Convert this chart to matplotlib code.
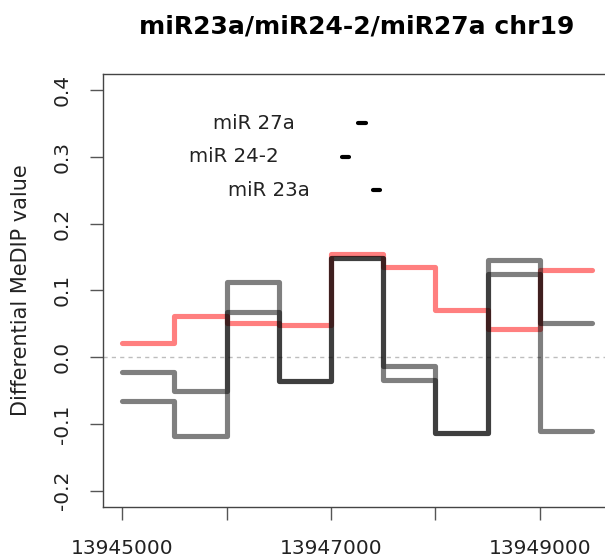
import matplotlib
matplotlib.use("Agg")
import matplotlib.pyplot as plt
import numpy as np

plt.rcParams['font.family'] = ['DejaVu Sans']

# Window edges (bp, chr19) and differential MeDIP values per 500 bp window
bin_edges = [13945000, 13945500, 13946000, 13946500, 13947000,
             13947500, 13948000, 13948500, 13949000, 13949500]
red_values = [0.021, 0.062, 0.051, 0.048, 0.154, 0.135, 0.071, 0.042, 0.130]
grey_a_values = [-0.023, -0.051, 0.068, -0.036, 0.148, -0.014, -0.113, 0.125, 0.051]
grey_b_values = [-0.066, -0.118, 0.113, -0.036, 0.148, -0.034, -0.113, 0.145, -0.111]

# miRNA loci
mir_names = ["miR 27a", "miR 24-2", "miR 23a"]
mir_starts = [13947254, 13947101, 13947401]
mir_ends = [13947331, 13947173, 13947473]
mir_levels = [0.35, 0.30, 0.25]

x_ticks = [13945000, 13946000, 13947000, 13948000, 13949000]
x_tick_labels = ["13945000", "", "13947000", "", "13949000"]
y_ticks = [-0.2, -0.1, 0.0, 0.1, 0.2, 0.3, 0.4]
y_tick_labels = ["-0.2", "-0.1", "0.0", "0.1", "0.2", "0.3", "0.4"]

W, H = 605, 558
fig = plt.figure(figsize=(W / 100, H / 100), dpi=100)
left, right, top, bottom = 103.3, 611.0, 74.0, 506.7
ax = fig.add_axes([left / W, 1 - bottom / H, (right - left) / W, (bottom - top) / H])

xmin, xmax = bin_edges[0], bin_edges[-1]
xpad = 0.04 * (xmax - xmin)
ax.set_xlim(xmin - xpad, xmax + xpad)
ypad = 0.04 * 0.6
ax.set_ylim(-0.2 - ypad, 0.4 + ypad)

ax.axhline(0, color="#bdbdbd", lw=1.0, linestyle=(0, (3, 3)), zorder=1)


def step_line(values, color, alpha):
    ys = list(values) + [values[-1]]
    ax.plot(bin_edges, ys, drawstyle="steps-post", color=color, alpha=alpha,
            lw=3.7, solid_capstyle="round", solid_joinstyle="round", zorder=2)


step_line(red_values, "red", 0.5)
step_line(grey_a_values, "black", 0.5)
step_line(grey_b_values, "black", 0.5)

for name, s, e, lvl in zip(mir_names, mir_starts, mir_ends, mir_levels):
    ax.plot([s, e], [lvl, lvl], color="black", lw=3.0, solid_capstyle="round", zorder=3)
    ax.text(s - 600, lvl, name, ha="right", va="center", fontsize=14.2, color="#222222")

ax.set_xticks(x_ticks)
ax.set_xticklabels(x_tick_labels, fontsize=14.5, color="#222222")
ax.set_yticks(y_ticks)
ax.set_yticklabels(y_tick_labels, fontsize=14.5, color="#222222", rotation=90, va="center")
ax.tick_params(axis="both", direction="out", length=9.5, width=1.0, color="#555555")
ax.tick_params(axis="x", pad=14)
ax.tick_params(axis="y", pad=13)

for side in ["left", "bottom", "top"]:
    ax.spines[side].set_color("#444444")
    ax.spines[side].set_linewidth(1.0)
ax.spines["right"].set_visible(False)

ax.set_ylabel("Differential MeDIP value", fontsize=15, color="#222222", labelpad=16)

fig.text(((left + right) / 2) / W, 1 - 33 / H, "miR23a/miR24-2/miR27a chr19",
         ha="center", va="baseline", fontsize=18, fontweight="bold")

fig.savefig("out.png", dpi=100)
